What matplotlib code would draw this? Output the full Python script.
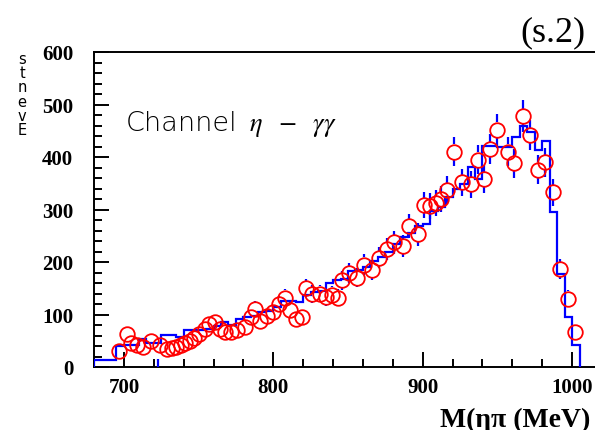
import numpy as np
import matplotlib
matplotlib.use("Agg")
import matplotlib.pyplot as plt
from matplotlib.ticker import MultipleLocator

# ---- data ----
bin_edges_start = 680
bin_width = 5
hist_counts = [13, 13, 13, 40, 42, 42, 53, 46, 46, 61, 61, 58, 70, 70, 70, 72,
               78, 86, 80, 92, 95, 97, 105, 106, 114, 126, 126, 124, 138, 142,
               145, 160, 166, 168, 183, 185, 190, 202, 210, 220, 234, 247, 255,
               269, 272, 298, 305, 324, 339, 349, 381, 358, 421, 421, 419, 419,
               438, 460, 447, 413, 430, 295, 177, 95, 41]

pt_x = [697, 702, 705, 709, 713, 718, 724, 729, 732, 735, 738, 741, 744, 747,
        750, 754, 757, 761, 764, 768, 772, 776, 781, 785, 788, 791, 796, 800,
        804, 808, 811, 815, 819, 822, 826, 831, 835, 839, 843, 846, 851, 856,
        861, 866, 871, 876, 881, 887, 891, 897, 901, 905, 909, 912, 916, 921,
        926, 932, 937, 941, 945, 950, 957, 961, 967, 972, 977, 982, 987, 992,
        997, 1002]
pt_y = [30, 62, 46, 42, 38, 50, 42, 35, 36, 38, 42, 46, 50, 56,
        62, 72, 82, 86, 72, 66, 66, 70, 76, 95, 110, 88, 98, 104,
        120, 132, 108, 92, 95, 150, 139, 140, 133, 138, 132, 165, 179, 170,
        195, 185, 208, 225, 238, 230, 268, 253, 308, 307, 312, 320, 337, 410,
        352, 348, 395, 358, 415, 452, 410, 388, 478, 442, 376, 390, 333, 187,
        130, 67]
pt_err = [8, 11, 9, 9, 9, 10, 9, 8, 8, 9, 9, 10, 10, 10,
          11, 12, 13, 13, 12, 11, 11, 12, 12, 14, 15, 13, 14, 14,
          15, 16, 15, 13, 14, 17, 17, 17, 16, 16, 16, 18, 19, 18,
          20, 19, 20, 21, 22, 21, 23, 22, 25, 25, 25, 25, 26, 28,
          26, 26, 28, 26, 28, 30, 28, 28, 31, 29, 27, 28, 26, 19,
          16, 11]
stray_x = [723]
stray_lo = [0]
stray_hi = [15]

x_ticks = [700, 800, 900, 1000]
y_ticks = [0, 100, 200, 300, 400, 500, 600]

# ---- figure ----
W, H = 595, 431
fig = plt.figure(figsize=(W / 100, H / 100), dpi=100)
left_px, right_px, top_px, bottom_px = 94, 602, 53, 368
ax = fig.add_axes([left_px / W, 1 - bottom_px / H,
                   (right_px - left_px) / W, (bottom_px - top_px) / H])
ax.set_xlim(680, 1020)
ax.set_ylim(0, 600)

red = "#ff0000"
blue = "#0000ff"

edges = bin_edges_start + bin_width * np.arange(len(hist_counts) + 1)
ax.stairs(hist_counts, edges, color=blue, lw=1.6, baseline=0, zorder=3)

# error bars with a gap where the marker is
ms = 10.5
fig.canvas.draw()
px_per_unit = ax.transData.transform((0, 1))[1] - ax.transData.transform((0, 0))[1]
gap = (ms / 2) * 100 / 72 / px_per_unit
px_ = np.array(pt_x, float)
py_ = np.array(pt_y, float)
pe_ = np.array(pt_err, float)
top_lo = py_ + gap
top_hi = py_ + np.maximum(pe_, gap)
bot_hi = py_ - gap
bot_lo = py_ - np.maximum(pe_, gap)
ax.vlines(px_, top_lo, top_hi, color=blue, lw=1.6, zorder=4)
ax.vlines(px_, bot_lo, bot_hi, color=blue, lw=1.6, zorder=4)
ax.vlines(stray_x, stray_lo, stray_hi, color=blue, lw=1.6, zorder=4)
ax.plot(pt_x, pt_y, ls="none", marker="o", ms=ms, mfc="none", mec=red,
        mew=1.3, zorder=5)

# ticks
ax.set_xticks(x_ticks)
ax.set_yticks(y_ticks)
ax.xaxis.set_minor_locator(MultipleLocator(20))
ax.yaxis.set_minor_locator(MultipleLocator(20))
ax.tick_params(which="both", direction="in", top=False, right=False,
               width=1.4, color="black")
ax.tick_params(which="major", length=10.5)
ax.tick_params(which="minor", length=5.5)
ax.tick_params(axis="y", which="major", pad=15)
ax.tick_params(axis="x", which="major", pad=7)
for lab in ax.get_xticklabels() + ax.get_yticklabels():
    lab.set_fontfamily("Liberation Serif")
    lab.set_fontweight("bold")
    lab.set_fontsize(15)
for s in ax.spines.values():
    s.set_linewidth(1.4)

# texts
fig.text(126 / W, 1 - 131 / H, "Channel", fontsize=19.5, family="DejaVu Sans",
         fontweight="light", color="black", va="baseline", ha="left")
fig.text(249 / W, 1 - 131 / H, r"$\eta\ \ -\ \ \gamma\gamma$", fontsize=19,
         color="black", va="baseline", ha="left",
         math_fontfamily="stix")
fig.text(585 / W, 1 - 33 / H, "(s.2)", fontsize=26, family="Liberation Serif",
         ha="right", va="center")
fig.text(440 / W, 1 - 427 / H, "M(ηπ (MeV)", fontsize=20,
         family="Liberation Serif", fontweight="bold", ha="left",
         va="baseline")
fig.text(22 / W, 1 - 95 / H, "s\nt\nn\ne\nv\nE", fontsize=10.5,
         family="DejaVu Sans", ha="center", va="center", linespacing=0.92)

fig.savefig("out.png", dpi=100)
